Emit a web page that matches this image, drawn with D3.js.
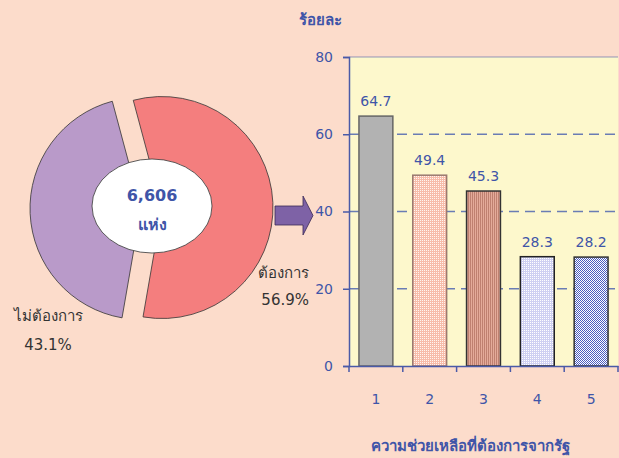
<!DOCTYPE html>
<html lang="th">
<head>
<meta charset="UTF-8">
<title>ความช่วยเหลือที่ต้องการจากรัฐ</title>
<script src="https://d3js.org/d3.v7.min.js"></script>
<style>
  body { margin: 0; background: #fcdccb; }
  text { font-family: Tahoma, "DejaVu Sans", "Noto Sans", sans-serif; }
</style>
</head>
<body>
<script>
// ---- data ----
var pieLabels = ["ต้องการ", "ไม่ต้องการ"];
var pieValues = [56.9, 43.1];
var pieTotal = "6,606";
var pieUnit = "แห่ง";

var barCategories = ["1", "2", "3", "4", "5"];
var barValues = [64.7, 49.4, 45.3, 28.3, 28.2];
var yTicks = [0, 20, 40, 60, 80];
var yTitle = "ร้อยละ";
var xTitle = "ความช่วยเหลือที่ต้องการจากรัฐ";

var W = 619, H = 458;
var blue = "#3f55a8";

var svg = d3.select("body").append("svg")
    .attr("width", W)
    .attr("height", H);

svg.append("rect").attr("width", W).attr("height", H).attr("fill", "#fcdccb");

// ---- patterns for bars ----
var defs = svg.append("defs");

function pat(id, w, h) {
    return defs.append("pattern").attr("id", id)
        .attr("patternUnits", "userSpaceOnUse")
        .attr("width", w).attr("height", h);
}
// pink grid
var p2 = pat("p2", 2, 2);
p2.append("rect").attr("width", 2).attr("height", 2).attr("fill", "#f7bcaa");
p2.append("rect").attr("width", 1).attr("height", 1).attr("fill", "#fff6f0");
// vertical stripes
var p3 = pat("p3", 2, 2);
p3.append("rect").attr("width", 2).attr("height", 2).attr("fill", "#e4ab9a");
p3.append("rect").attr("width", 1).attr("height", 2).attr("fill", "#bf8070");
// lavender grid
var p4 = pat("p4", 2, 2);
p4.append("rect").attr("width", 2).attr("height", 2).attr("fill", "#cfd0f2");
p4.append("rect").attr("width", 1).attr("height", 1).attr("fill", "#ffffff");
// blue checker
var p5 = pat("p5", 2, 2);
p5.append("rect").attr("width", 2).attr("height", 2).attr("fill", "#ffffff");
p5.append("rect").attr("width", 1).attr("height", 1).attr("fill", "#4a5cc0");
p5.append("rect").attr("x", 1).attr("y", 1).attr("width", 1).attr("height", 1).attr("fill", "#4a5cc0");

var barFills = ["#b2b2b2", "url(#p2)", "url(#p3)", "url(#p4)", "url(#p5)"];
var barStrokes = ["#666666", "#9a7a70", "#333333", "#222222", "#333333"];

// ---- doughnut ----
var cx = 151.5, cy = 208, r = 111, explode = 10.5;
var pieColors = ["#f47e7e", "#b99ac9"];

var pie = d3.pie().sort(null)
    .startAngle(-15 * Math.PI / 180)
    .endAngle(345 * Math.PI / 180);
var arc = d3.arc().innerRadius(0).outerRadius(r);

var pieG = svg.append("g").attr("transform", "translate(" + cx + "," + cy + ")");
pieG.selectAll("path")
    .data(pie(pieValues))
    .enter()
    .append("path")
    .attr("transform", function(d) {
        var a = (d.startAngle + d.endAngle) / 2;
        return "translate(" + (Math.sin(a) * explode) + "," + (-Math.cos(a) * explode) + ")";
    })
    .attr("d", arc)
    .attr("fill", function(d, i) { return pieColors[i]; })
    .attr("stroke", "#333")
    .attr("stroke-width", 0.8);

// white hole
svg.append("ellipse")
    .attr("cx", 152).attr("cy", 206)
    .attr("rx", 60).attr("ry", 47)
    .attr("fill", "#ffffff")
    .attr("stroke", "#333")
    .attr("stroke-width", 0.8);

svg.append("text").attr("x", 152).attr("y", 201)
    .attr("text-anchor", "middle").attr("fill", blue)
    .style("font-size", "16px").style("font-weight", "bold")
    .text(pieTotal);
svg.append("text").attr("x", 152).attr("y", 230)
    .attr("text-anchor", "middle").attr("fill", blue)
    .style("font-size", "16px").style("font-weight", "bold")
    .text(pieUnit);

// slice labels
svg.append("text").attr("x", 309).attr("y", 278)
    .attr("text-anchor", "end").attr("fill", "#333")
    .style("font-size", "15px").text(pieLabels[0]);
svg.append("text").attr("x", 309).attr("y", 305)
    .attr("text-anchor", "end").attr("fill", "#333")
    .style("font-size", "15px").text(pieValues[0].toFixed(1) + "%");
svg.append("text").attr("x", 48).attr("y", 321)
    .attr("text-anchor", "middle").attr("fill", "#333")
    .style("font-size", "15px").text(pieLabels[1]);
svg.append("text").attr("x", 48).attr("y", 350)
    .attr("text-anchor", "middle").attr("fill", "#333")
    .style("font-size", "15px").text(pieValues[1].toFixed(1) + "%");

// arrow
svg.append("path")
    .attr("d", "M275,206 L303,206 L303,196 L313,215.5 L303,235 L303,225 L275,225 Z")
    .attr("fill", "#7e62a6")
    .attr("stroke", "#3a2a55")
    .attr("stroke-width", 0.8);

// ---- bar chart ----
var plotL = 349, plotR = 618, plotT = 57, plotB = 366;

var x = d3.scaleBand()
    .domain(barCategories)
    .range([plotL, plotR])
    .paddingInner(0.37)
    .paddingOuter(0.185);

var y = d3.scaleLinear()
    .domain([0, 80])
    .range([plotB, plotT]);

svg.append("rect")
    .attr("x", plotL).attr("y", plotT)
    .attr("width", plotR - plotL).attr("height", plotB - plotT)
    .attr("fill", "#fdf8cc");

// dashed gridlines
svg.append("g").selectAll("line")
    .data(yTicks.filter(function(t) { return t > 0 && t < 80; }))
    .enter()
    .append("line")
    .attr("x1", plotL).attr("x2", plotR)
    .attr("y1", function(d) { return y(d); })
    .attr("y2", function(d) { return y(d); })
    .attr("stroke", "#6a7cb4")
    .attr("stroke-width", 1.4)
    .attr("stroke-dasharray", "10,6");

// bars
svg.append("g").selectAll("rect")
    .data(barValues)
    .enter()
    .append("rect")
    .attr("x", function(d, i) { return x(barCategories[i]); })
    .attr("y", function(d) { return y(d); })
    .attr("width", x.bandwidth())
    .attr("height", function(d) { return plotB - y(d); })
    .attr("fill", function(d, i) { return barFills[i]; })
    .attr("stroke", function(d, i) { return barStrokes[i]; })
    .attr("stroke-width", 1.5);

// value labels
svg.append("g").selectAll("text")
    .data(barValues)
    .enter()
    .append("text")
    .attr("x", function(d, i) { return x(barCategories[i]) + x.bandwidth() / 2; })
    .attr("y", function(d) { return y(d) - 10; })
    .attr("text-anchor", "middle")
    .attr("fill", blue)
    .style("font-size", "14px")
    .text(function(d) { return d.toFixed(1); });

// y axis
var yAxis = svg.append("g")
    .attr("transform", "translate(" + plotL + ",0)")
    .call(d3.axisLeft(y).tickValues(yTicks).tickSize(6).tickPadding(10));
yAxis.selectAll("text").attr("fill", blue).style("font-size", "14px")
    .style("font-family", "Tahoma, 'DejaVu Sans', sans-serif");

// x axis: ticks at band edges
var xAxis = svg.append("g")
    .attr("transform", "translate(0," + plotB + ")")
    .call(d3.axisBottom(x).tickSize(0).tickPadding(28));
xAxis.selectAll("text").attr("fill", blue).style("font-size", "14px")
    .style("font-family", "Tahoma, 'DejaVu Sans', sans-serif");
var edges = barCategories.map(function(c) { return x(c) - (x.step() - x.bandwidth()) / 2; });
edges.push(plotR);
xAxis.selectAll("line.edge")
    .data(edges)
    .enter()
    .append("line")
    .attr("class", "edge")
    .attr("x1", function(d) { return d; }).attr("x2", function(d) { return d; })
    .attr("y1", 0).attr("y2", 6);

svg.selectAll(".domain, .tick line, line.edge")
    .attr("stroke", "#4a5aa8").attr("stroke-width", 1.5);

// plot top border
svg.append("line")
    .attr("x1", plotL).attr("x2", plotR)
    .attr("y1", plotT).attr("y2", plotT)
    .attr("stroke", "#4a5aa8").attr("stroke-width", 0.6);

// titles
svg.append("text").attr("x", 320).attr("y", 25)
    .attr("text-anchor", "middle").attr("fill", blue)
    .style("font-size", "15px").style("font-weight", "bold")
    .text(yTitle);
svg.append("text").attr("x", 470).attr("y", 451)
    .attr("text-anchor", "middle").attr("fill", blue)
    .style("font-size", "15px").style("font-weight", "bold")
    .text(xTitle);
</script>
</body>
</html>
